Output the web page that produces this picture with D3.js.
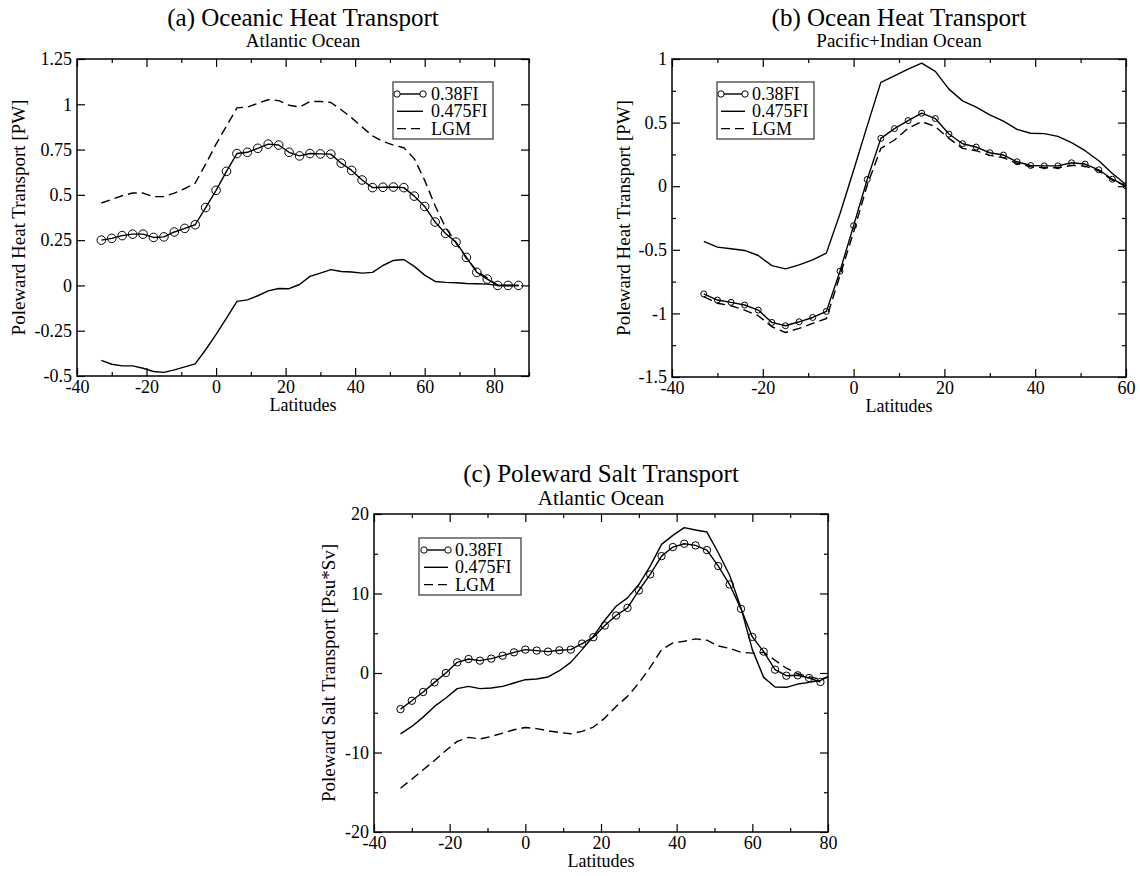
<!DOCTYPE html>
<html>
<head>
<meta charset="utf-8">
<script src="https://cdn.jsdelivr.net/npm/d3@7"></script>
<style>
  html, body { margin: 0; padding: 0; background: #fff; }
  svg { display: block; font-family: "Liberation Serif", "Times New Roman", serif; }
</style>
</head>
<body>
<svg id="chart" width="1140" height="876"></svg>
<script>
// ---- data ----
const seriesNames = ['0.38FI', '0.475FI', 'LGM'];

// (a) Atlantic heat transport [PW]
const latA = [-33,-30,-27,-24,-21,-18,-15,-12,-9,-6,-3,0,3,6,9,12,15,18,21,24,27,30,33,36,39,42,45,48,51,54,57,60,63,66,69,72,75,78,81,84,87];
const atl038 = [0.25,0.26,0.275,0.283,0.283,0.265,0.268,0.295,0.315,0.335,
  0.43,0.525,0.63,0.728,0.735,0.757,0.78,0.775,0.735,0.715,
  0.728,0.726,0.725,0.675,0.635,0.582,0.54,0.542,0.543,0.54,
  0.493,0.436,0.35,0.287,0.239,0.155,0.072,0.035,0,0,0];
const atl0475 = [-0.414,-0.435,-0.444,-0.444,-0.457,-0.475,-0.48,-0.466,-0.45,-0.433,
  -0.355,-0.27,-0.18,-0.088,-0.08,-0.057,-0.03,-0.017,-0.018,0.005,
  0.05,0.068,0.087,0.077,0.074,0.068,0.072,0.11,0.138,0.143,
  0.105,0.057,0.022,0.017,0.015,0.011,0.009,0.007,0,0,0];
const atlLGM = [0.455,0.475,0.495,0.51,0.51,0.49,0.49,0.51,0.535,0.565,
  0.67,0.78,0.88,0.98,0.985,1.005,1.025,1.02,0.995,0.985,
  1.015,1.015,1.01,0.97,0.925,0.875,0.825,0.795,0.775,0.76,
  0.7,0.58,0.44,0.32,0.235,0.15,0.08,0.04,0,0,0];

// (b) Pacific+Indian heat transport [PW]
const latB = [-33,-30,-27,-24,-21,-18,-15,-12,-9,-6,-3,0,3,6,9,12,15,18,21,24,27,30,33,36,39,42,45,48,51,54,57,60];
const pac038 = [-0.847,-0.895,-0.913,-0.934,-0.974,-1.071,-1.097,-1.066,-1.032,-0.984,
  -0.668,-0.31,0.053,0.376,0.453,0.516,0.574,0.532,0.41,0.334,
  0.308,0.263,0.245,0.192,0.163,0.16,0.16,0.184,0.174,0.129,
  0.055,0.003];
const pac0475 = [-0.434,-0.479,-0.492,-0.505,-0.545,-0.624,-0.65,-0.618,-0.579,-0.526,
  -0.216,0.126,0.474,0.816,0.868,0.921,0.968,0.903,0.763,0.671,
  0.621,0.561,0.511,0.447,0.416,0.413,0.392,0.342,0.279,0.2,
  0.1,0.013];
const pacLGM = [-0.868,-0.92,-0.94,-0.974,-1.018,-1.105,-1.15,-1.118,-1.079,-1.04,
  -0.703,-0.36,0.008,0.297,0.363,0.455,0.508,0.468,0.376,0.297,
  0.279,0.242,0.224,0.179,0.153,0.145,0.145,0.163,0.158,0.121,
  0.047,0];

// (c) Atlantic salt transport [Psu*Sv]
const latC = [-33,-30,-27,-24,-21,-18,-15,-12,-9,-6,-3,0,3,6,9,12,15,18,21,24,27,30,33,36,39,42,45,48,51,54,57,60,63,66,69,72,75,78,81];
const salt038 = [-4.54,-3.49,-2.39,-1.18,0.0,1.34,1.76,1.55,1.81,2.18,
  2.6,2.94,2.82,2.69,2.86,2.94,3.7,4.5,5.97,7.23,
  8.19,10.38,12.4,14.7,15.84,16.26,16.05,15.46,13.45,11.13,
  8.07,4.54,2.69,0.42,-0.34,-0.29,-0.63,-1.13,null];
const salt0475 = [-7.65,-6.72,-5.55,-4.2,-3.15,-1.97,-1.68,-1.97,-1.89,-1.68,
  -1.26,-0.84,-0.76,-0.5,0.29,1.34,2.94,4.62,6.64,8.4,
  9.45,11.13,13.45,16.18,17.31,18.28,17.98,17.73,15.13,12.3,
  8.19,2.94,-0.55,-1.76,-1.8,-1.39,-1.18,-0.92,-0.3];
const saltLGM = [-14.5,-13.36,-12.18,-11.0,-9.75,-8.6,-8.1,-8.3,-7.98,-7.56,
  -7.14,-6.85,-7.0,-7.27,-7.48,-7.65,-7.35,-6.8,-5.67,-4.2,
  -2.94,-1.26,0.71,2.94,3.78,3.99,4.29,4.12,3.4,3.1,
  2.6,2.5,2.6,1.6,0.6,-0.1,-0.45,-0.8,-0.3];

// ---- tick values / labels ----
const ticksA = { xMajor: [-40,-20,0,20,40,60,80], xMinor: [-30,-10,10,30,50,70,90],
  yMajor: [-0.5,-0.25,0,0.25,0.5,0.75,1,1.25], yMinor: [],
  yLabels: ['-0.5','-0.25','0','0.25','0.5','0.75','1','1.25'] };
const ticksB = { xMajor: [-40,-20,0,20,40,60], xMinor: [-30,-10,10,30,50],
  yMajor: [-1.5,-1,-0.5,0,0.5,1], yMinor: [-1.25,-0.75,-0.25,0.25,0.75],
  yLabels: ['-1.5','-1','-0.5','0','0.5','1'] };
const ticksC = { xMajor: [-40,-20,0,20,40,60,80], xMinor: [-30,-10,10,30,50,70],
  yMajor: [-20,-10,0,10,20], yMinor: [-15,-5,5,15],
  yLabels: ['-20','-10','0','10','20'] };

const svg = d3.select('#chart');
const MAJOR = 8, MINOR = 4;
const SERIF = '"Liberation Serif", "Times New Roman", serif';

function drawPanel(p) {
  const x = d3.scaleLinear().domain(p.xDomain).range([p.left, p.right]);
  const y = d3.scaleLinear().domain(p.yDomain).range([p.bottom, p.top]);
  const g = svg.append('g');

  g.append('clipPath').attr('id', 'clip-' + p.id)
    .append('rect')
    .attr('x', p.left).attr('y', p.top)
    .attr('width', p.right - p.left).attr('height', p.bottom - p.top);

  // tick marks (inward on all four sides) + labels
  const t = p.ticks;
  const fmtY = v => t.yLabels[t.yMajor.indexOf(v)];
  const addAxis = (axis, tx, ty, labels) => {
    const a = g.append('g').attr('transform', `translate(${tx},${ty})`).call(axis)
      .attr('font-family', SERIF).attr('font-size', 18);
    a.select('.domain').remove();
    a.selectAll('line').attr('stroke', '#000').attr('stroke-width', 1.2);
    if (labels) {
      a.selectAll('text').attr('fill', '#000');
    } else {
      a.selectAll('text').remove();
    }
  };
  addAxis(d3.axisBottom(x).tickValues(t.xMajor).tickSize(-MAJOR).tickPadding(4).tickFormat(d => String(d)), 0, p.bottom, true);
  addAxis(d3.axisBottom(x).tickValues(t.xMinor).tickSize(-MINOR), 0, p.bottom, false);
  addAxis(d3.axisTop(x).tickValues(t.xMajor).tickSize(-MAJOR), 0, p.top, false);
  addAxis(d3.axisTop(x).tickValues(t.xMinor).tickSize(-MINOR), 0, p.top, false);
  addAxis(d3.axisLeft(y).tickValues(t.yMajor).tickSize(-MAJOR).tickPadding(5).tickFormat(fmtY), p.left, 0, true);
  addAxis(d3.axisLeft(y).tickValues(t.yMinor).tickSize(-MINOR), p.left, 0, false);
  addAxis(d3.axisRight(y).tickValues(t.yMajor).tickSize(-MAJOR), p.right, 0, false);
  addAxis(d3.axisRight(y).tickValues(t.yMinor).tickSize(-MINOR), p.right, 0, false);

  // data lines
  const plot = g.append('g').attr('clip-path', `url(#clip-${p.id})`);
  const styles = [
    { dash: null, marker: true },
    { dash: null, marker: false },
    { dash: '9,5', marker: false }
  ];
  p.series.forEach((vals, i) => {
    const pts = p.lat.map((la, j) => ({ la, v: vals[j] })).filter(d => d.v != null);
    const line = d3.line().x(d => x(d.la)).y(d => y(d.v));
    plot.append('path').datum(pts)
      .attr('fill', 'none').attr('stroke', '#000').attr('stroke-width', 1.4)
      .attr('stroke-dasharray', styles[i].dash)
      .attr('stroke-linejoin', 'round')
      .attr('d', line);
    if (styles[i].marker) {
      plot.selectAll(null).data(pts).enter().append('circle')
        .attr('cx', d => x(d.la)).attr('cy', d => y(d.v))
        .attr('r', p.markerR)
        .attr('fill', 'none').attr('stroke', '#000').attr('stroke-width', 1);
    }
  });

  // frame
  g.append('rect')
    .attr('x', p.left).attr('y', p.top)
    .attr('width', p.right - p.left).attr('height', p.bottom - p.top)
    .attr('fill', 'none').attr('stroke', '#000').attr('stroke-width', 1.5);

  // titles
  const cx = (p.left + p.right) / 2;
  g.append('text').attr('x', cx).attr('y', p.titleY)
    .attr('text-anchor', 'middle').style('font-size', '25px').text(p.title);
  g.append('text').attr('x', cx).attr('y', p.titleY + p.subGap)
    .attr('text-anchor', 'middle').style('font-size', p.subSize + 'px').text(p.subtitle);

  // axis labels
  g.append('text').attr('x', cx).attr('y', p.bottom + 35)
    .attr('text-anchor', 'middle').style('font-size', '18px').text('Latitudes');
  g.append('text')
    .attr('transform', `translate(${p.yLabelX},${(p.top + p.bottom) / 2}) rotate(-90)`)
    .attr('text-anchor', 'middle').style('font-size', '19px').text(p.yLabel);

  // legend
  const L = p.legend;
  const lg = g.append('g').attr('transform', `translate(${p.left + L.dx},${p.top + L.dy})`);
  lg.append('rect').attr('x', 0).attr('y', 0).attr('width', L.w).attr('height', 57)
    .attr('fill', '#fff').attr('stroke', '#444').attr('stroke-width', 1.3);
  seriesNames.forEach((name, i) => {
    const ry = 12 + i * 17.3;
    lg.append('line').attr('x1', L.x1).attr('x2', L.x2).attr('y1', ry).attr('y2', ry)
      .attr('stroke', '#000').attr('stroke-width', 1.4)
      .attr('stroke-dasharray', styles[i].dash);
    if (styles[i].marker) {
      [L.x1, L.x2].forEach(mx => lg.append('circle').attr('cx', mx).attr('cy', ry).attr('r', 3.2)
        .attr('fill', '#fff').attr('stroke', '#000').attr('stroke-width', 1));
    }
    lg.append('text').attr('x', L.tx).attr('y', ry + 6).style('font-size', '18px').text(name);
  });
}

drawPanel({
  id: 'a', left: 77, right: 529, top: 59, bottom: 376,
  xDomain: [-40, 90], yDomain: [-0.5, 1.25], ticks: ticksA,
  lat: latA, series: [atl038, atl0475, atlLGM], markerR: 4.3,
  title: '(a) Oceanic Heat Transport', subtitle: 'Atlantic Ocean', titleY: 26, subGap: 21, subSize: 19,
  yLabel: 'Poleward Heat Transport [PW]', yLabelX: 25,
  legend: { dx: 316, dy: 23, w: 100, x1: 4, x2: 30, tx: 38 }
});

drawPanel({
  id: 'b', left: 672, right: 1126, top: 59, bottom: 377,
  xDomain: [-40, 60], yDomain: [-1.5, 1], ticks: ticksB,
  lat: latB, series: [pac038, pac0475, pacLGM], markerR: 3,
  title: '(b) Ocean Heat Transport', subtitle: 'Pacific+Indian Ocean', titleY: 26, subGap: 21, subSize: 19,
  yLabel: 'Poleward Heat Transport [PW]', yLabelX: 630,
  legend: { dx: 45, dy: 23, w: 97, x1: 4, x2: 28, tx: 35 }
});

drawPanel({
  id: 'c', left: 374, right: 828, top: 514, bottom: 832,
  xDomain: [-40, 80], yDomain: [-20, 20], ticks: ticksC,
  lat: latC, series: [salt038, salt0475, saltLGM], markerR: 3.7,
  title: '(c) Poleward Salt Transport', subtitle: 'Atlantic Ocean', titleY: 482, subGap: 23, subSize: 21,
  yLabel: 'Poleward Salt Transport [Psu*Sv]', yLabelX: 335,
  legend: { dx: 45, dy: 24, w: 102, x1: 5, x2: 29, tx: 36 }
});
</script>
</body>
</html>
